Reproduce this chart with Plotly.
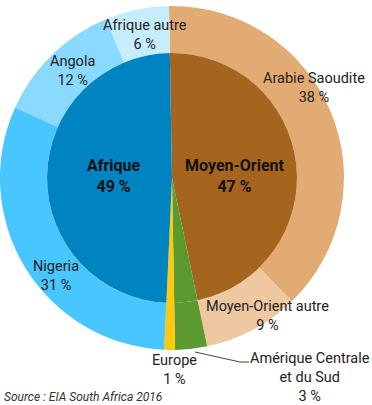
import plotly.graph_objects as go

W, H = 372, 405

# ---- data ----
inner_labels = ["Moyen-Orient", "Amérique Centrale et du Sud", "Europe", "Afrique"]
inner_values = [47, 3, 1, 49]
inner_colors = ["#A6651E", "#5B9A2F", "#FFC80A", "#0083C1"]

outer_labels = ["Arabie Saoudite", "Moyen-Orient autre", "Amérique Centrale<br>et du Sud",
                "Europe", "Nigeria", "Angola", "Afrique autre"]
outer_values = [38, 9, 3, 1, 31, 12, 6]
outer_colors = ["#E2AB73", "#EEC8A0", "#5B9A2F", "#FFC80A", "#47C6FF", "#8AD9FF", "#C6EDFD"]

source_text = "Source : EIA South Africa 2016"

# ---- layout geometry (pixels) ----
cx, cy, R, r_in = 172, 178, 172, 125

def px_x(v):
    return min(max(v / W, 0), 1)

def px_y(v):
    return min(max(1 - v / H, 0), 1)

fig = go.Figure()
fig.add_trace(go.Pie(
    labels=outer_labels, values=outer_values, sort=False, direction="clockwise",
    rotation=-1, hole=r_in / R,
    marker=dict(colors=outer_colors, line=dict(width=0)),
    textinfo="none", hoverinfo="label+value",
    domain=dict(x=[px_x(cx - R), px_x(cx + R)], y=[px_y(cy + R), px_y(cy - R)]),
    showlegend=False,
))
fig.add_trace(go.Pie(
    labels=inner_labels, values=inner_values, sort=False, direction="clockwise",
    rotation=-1,
    marker=dict(colors=inner_colors, line=dict(width=0)),
    textinfo="none", hoverinfo="label+value",
    domain=dict(x=[px_x(cx - r_in), px_x(cx + r_in)], y=[px_y(cy + r_in), px_y(cy - r_in)]),
    showlegend=False,
))

# label positions (pixel centers)
outer_pos = [(314, 88), (267, 316), (310, 377), (174, 370), (56, 276), (72, 71), (145, 35)]
inner_pos = {"Moyen-Orient": (235, 176), "Afrique": (114, 176)}

annotations = []
for lab, val, (x, y) in zip(outer_labels, outer_values, outer_pos):
    annotations.append(dict(
        x=px_x(x), y=px_y(y), xref="paper", yref="paper", showarrow=False,
        xanchor="center", yanchor="middle", align="center",
        text=f"{lab}<br>{val} %", font=dict(family="Roboto", size=14.5, color="#222222"),
    ))
for lab, val in zip(inner_labels, inner_values):
    if lab in inner_pos:
        x, y = inner_pos[lab]
        annotations.append(dict(
            x=px_x(x), y=px_y(y), xref="paper", yref="paper", showarrow=False,
            xanchor="center", yanchor="middle", align="center",
            text=f"<b>{lab}<br>{val} %</b>", font=dict(family="Roboto", size=16, color="#111111"),
        ))
annotations.append(dict(
    x=px_x(2), y=px_y(397), xref="paper", yref="paper", showarrow=False,
    xanchor="left", yanchor="middle", text=f"<i>{source_text}</i>",
    font=dict(family="Roboto", size=12, color="#333333"),
))

leader = f"M {px_x(195)} {px_y(352)} L {px_x(240)} {px_y(362)} L {px_x(249)} {px_y(362)}"
fig.update_layout(
    width=W, height=H, margin=dict(l=0, r=0, t=0, b=0),
    paper_bgcolor="white", plot_bgcolor="white",
    annotations=annotations,
    shapes=[dict(type="path", path=leader, xref="paper", yref="paper",
                 line=dict(color="#444444", width=1))],
)
fig.write_html("out.html")
